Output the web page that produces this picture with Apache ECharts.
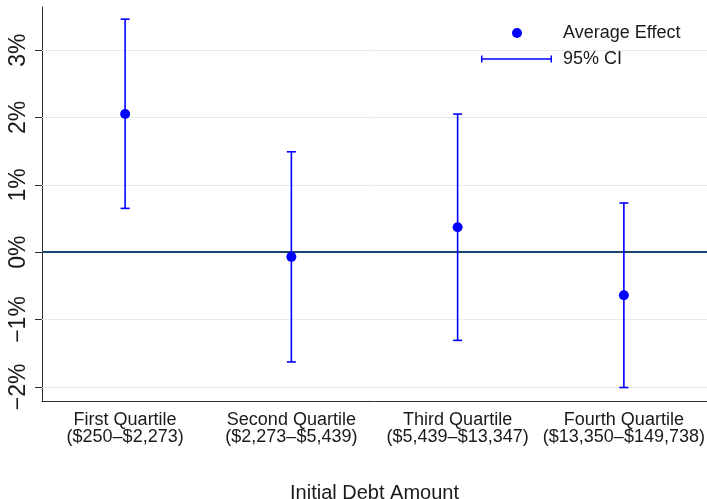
<!DOCTYPE html>
<html>
<head>
<meta charset="utf-8">
<script src="https://cdn.jsdelivr.net/npm/echarts@6/dist/echarts.min.js"></script>
<style>
  html, body { margin: 0; padding: 0; background: #fff; }
  #chart { width: 707px; height: 499px; }
</style>
</head>
<body>
<div id="chart"></div>
<script>
// Debt quartiles (labels) and estimated effects with 95% confidence bounds, in percent
const categories = [
  'First Quartile\n($250–$2,273)',
  'Second Quartile\n($2,273–$5,439)',
  'Third Quartile\n($5,439–$13,347)',
  'Fourth Quartile\n($13,350–$149,738)'
];
const effect = [2.05, -0.07, 0.37, -0.64];
const ciLow = [0.65, -1.63, -1.31, -2.01];
const ciHigh = [3.46, 1.49, 2.05, 0.73];
const yTicks = [-2, -1, 0, 1, 2, 3];

const FONT = "'Liberation Sans', Arial, sans-serif";
const BLUE = '#0000ff';
const AXIS = '#2e2e2e';

const pctLabel = v => (v < 0 ? '\u2212' + Math.abs(v) : String(v)) + '%';

const ciData = categories.map((c, i) => [i, ciLow[i], ciHigh[i]]);

const chart = echarts.init(document.getElementById('chart'), null, { renderer: 'canvas' });

chart.setOption({
  animation: false,
  backgroundColor: '#ffffff',
  textStyle: { fontFamily: FONT },
  grid: { left: 42, right: 0, top: 7, bottom: 98, containLabel: false, outerBoundsMode: 'none' },
  legend: [
    {
      data: ['Average Effect'],
      orient: 'vertical',
      left: 512, top: 24, padding: 0,
      itemWidth: 10, itemHeight: 10,
      icon: 'circle',
      selectedMode: false,
      textStyle: { fontFamily: FONT, fontSize: 18, color: '#1a1a1a', padding: [0, 0, 0, 36] }
    },
    {
      data: ['95% CI'],
      orient: 'vertical',
      left: 481, top: 50, padding: 0,
      itemWidth: 71, itemHeight: 7,
      icon: 'path://M0,0H1.5V7H0Z M0,2.75H71V4.25H0Z M69.5,0H71V7H69.5Z',
      selectedMode: false,
      textStyle: { fontFamily: FONT, fontSize: 18, color: '#1a1a1a', padding: [0, 0, 0, 6] }
    }
  ],
  xAxis: {
    type: 'category',
    data: categories,
    boundaryGap: true,
    name: 'Initial Debt Amount',
    nameLocation: 'middle',
    nameGap: 82,
    nameTextStyle: { fontFamily: FONT, fontSize: 20, color: '#1a1a1a' },
    axisLine: { onZero: false, lineStyle: { color: AXIS, width: 1 } },
    axisTick: { alignWithLabel: true, length: 6, lineStyle: { color: AXIS } },
    axisLabel: {
      fontFamily: FONT, fontSize: 18, lineHeight: 17, color: '#1a1a1a',
      margin: 11, interval: 0
    },
    splitLine: { show: false }
  },
  yAxis: {
    type: 'value',
    min: -2.21,
    max: 3.64,
    axisLine: { show: true, onZero: false, lineStyle: { color: AXIS, width: 1 } },
    axisTick: { show: true, length: 7, customValues: yTicks, lineStyle: { color: AXIS } },
    axisLabel: {
      customValues: yTicks,
      rotate: 90,
      margin: 12,
      fontFamily: FONT, fontSize: 23, color: '#1a1a1a',
      formatter: pctLabel
    },
    splitLine: { show: false }
  },
  series: [
    {
      // horizontal reference lines at each tick, plus the zero line
      name: 'gridlines',
      type: 'line',
      data: [],
      silent: true,
      z: 1,
      markLine: {
        silent: true,
        symbol: 'none',
        label: { show: false },
        z: 1,
        data: yTicks.filter(v => v !== 0).map(v => ({
          yAxis: v, lineStyle: { color: '#e4ecef', width: 1, type: 'solid' }
        })).concat([{ yAxis: 0, lineStyle: { color: '#1a476f', width: 2, type: 'solid' } }])
      }
    },
    {
      name: '95% CI',
      type: 'custom',
      z: 3,
      itemStyle: { color: BLUE },
      data: ciData,
      renderItem: function (params, api) {
        const x = api.value(0);
        const lo = api.coord([x, api.value(1)]);
        const hi = api.coord([x, api.value(2)]);
        const half = 4.5;
        const style = { stroke: BLUE, lineWidth: 1.6, fill: 'none' };
        return {
          type: 'group',
          children: [
            { type: 'line', shape: { x1: lo[0], y1: lo[1], x2: hi[0], y2: hi[1] }, style },
            { type: 'line', shape: { x1: hi[0] - half, y1: hi[1], x2: hi[0] + half, y2: hi[1] }, style },
            { type: 'line', shape: { x1: lo[0] - half, y1: lo[1], x2: lo[0] + half, y2: lo[1] }, style }
          ]
        };
      }
    },
    {
      name: 'Average Effect',
      type: 'scatter',
      z: 4,
      symbol: 'circle',
      symbolSize: 10,
      itemStyle: { color: BLUE, opacity: 1 },
      data: effect.map((v, i) => [i, v])
    }
  ]
});
</script>
</body>
</html>
